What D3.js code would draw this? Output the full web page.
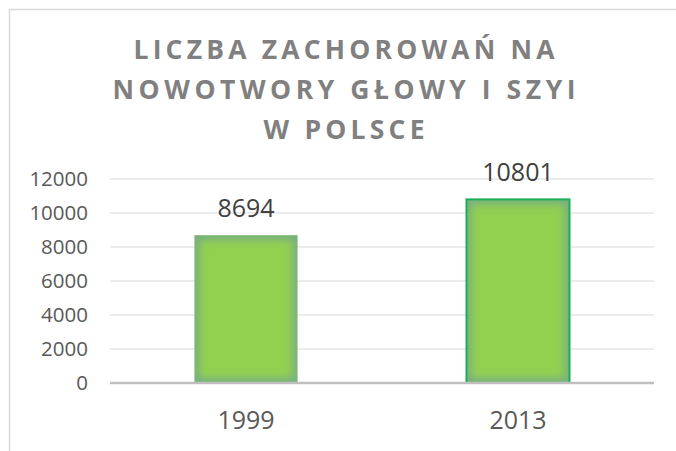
<!DOCTYPE html>
<html lang="pl">
<head>
<meta charset="UTF-8">
<title>Liczba zachorowań</title>
<script src="https://cdn.jsdelivr.net/npm/d3@7"></script>
<style>
  html, body { margin: 0; padding: 0; background: #fff; }
  #chart { width: 676px; height: 451px; }
  text { font-family: "Open Sans", "Noto Sans", sans-serif; }
</style>
</head>
<body>
<div id="chart"></div>
<script>
// data
var years = ["1999", "2013"];
var cases = [8694, 10801];
var yTicks = [0, 2000, 4000, 6000, 8000, 10000, 12000];
var titleLines = ["LICZBA ZACHOROWAŃ NA", "NOWOTWORY GŁOWY I SZYI", "W POLSCE"];

var W = 676, H = 451;
var svg = d3.select("#chart").append("svg")
    .attr("width", W)
    .attr("height", H);

var defs = svg.append("defs");
var glow = defs.append("filter").attr("id", "glow")
    .attr("x", "-20%").attr("y", "-20%").attr("width", "140%").attr("height", "140%");
glow.append("feGaussianBlur").attr("stdDeviation", 4);

// chart frame (runs off the right and bottom of the picture)
svg.append("path")
    .attr("d", "M9.5," + (H + 2) + "V9.5H" + (W + 2))
    .attr("fill", "none")
    .attr("stroke", "#d9d9d9")
    .attr("stroke-width", 1.5);

// title
var titleWidths = [421, 463, 161];
svg.append("g").selectAll("text")
    .data(titleLines).enter().append("text")
    .attr("x", 344)
    .attr("y", function (d, i) { return 58.5 + i * 40; })
    .attr("text-anchor", "middle")
    .attr("font-size", 26.5)
    .attr("font-weight", "bold")
    .attr("fill", "#808080")
    .attr("textLength", function (d, i) { return titleWidths[i]; })
    .attr("lengthAdjust", "spacing")
    .text(function (d) { return d; });

var x = d3.scaleBand().domain(years).range([110, 654]);
var y = d3.scaleLinear().domain([0, 12000]).range([383, 179]);
var barW = 103;

// gridlines
svg.append("g").selectAll("line")
    .data(yTicks.filter(function (t) { return t > 0; })).enter().append("line")
    .attr("x1", 110).attr("x2", 654)
    .attr("y1", function (d) { return y(d); })
    .attr("y2", function (d) { return y(d); })
    .attr("stroke", "#d9d9d9")
    .attr("stroke-width", 1.2);

// y tick labels
var yAxis = svg.append("g")
    .attr("transform", "translate(110,0)")
    .call(d3.axisLeft(y).tickValues(yTicks).tickFormat(d3.format("d")).tickSize(0).tickPadding(22));
yAxis.select(".domain").remove();
yAxis.selectAll("text")
    .attr("font-family", "Open Sans, sans-serif")
    .attr("font-size", 20.5)
    .attr("fill", "#595959");

// bars
var bars = svg.append("g").selectAll("g")
    .data(years).enter().append("g");

bars.each(function (d, i) {
    var g = d3.select(this);
    var bx = x(d) + x.bandwidth() / 2 - barW / 2;
    var by = y(cases[i]);
    var bh = y(0) - by;
    var cid = "clip" + i;
    defs.append("clipPath").attr("id", cid)
        .append("rect").attr("x", bx).attr("y", by).attr("width", barW).attr("height", bh);
    g.append("rect")
        .attr("x", bx).attr("y", by).attr("width", barW).attr("height", bh)
        .attr("fill", "#92d050");
    g.append("rect")
        .attr("clip-path", "url(#" + cid + ")")
        .attr("x", bx).attr("y", by).attr("width", barW).attr("height", bh)
        .attr("fill", "none")
        .attr("stroke", "#5a8db5")
        .attr("stroke-opacity", 0.6)
        .attr("stroke-width", 8)
        .attr("filter", "url(#glow)");
    if (i === 1) {
        g.append("rect")
            .attr("x", bx).attr("y", by).attr("width", barW).attr("height", bh)
            .attr("fill", "none")
            .attr("stroke", "#1aaf54")
            .attr("stroke-width", 2);
    }
    // data label
    g.append("text")
        .attr("x", x(d) + x.bandwidth() / 2)
        .attr("y", by - 18.5)
        .attr("text-anchor", "middle")
        .attr("font-size", 25)
        .attr("fill", "#404040")
        .text(cases[i]);
});

// x axis line
svg.append("line")
    .attr("x1", 110).attr("x2", 654)
    .attr("y1", y(0)).attr("y2", y(0))
    .attr("stroke", "#bfbfbf")
    .attr("stroke-width", 2.5);

// x labels
var xAxis = svg.append("g")
    .attr("transform", "translate(0," + y(0) + ")")
    .call(d3.axisBottom(x).tickSize(0).tickPadding(28));
xAxis.select(".domain").remove();
xAxis.selectAll("text")
    .attr("font-family", "Open Sans, sans-serif")
    .attr("font-size", 25)
    .attr("fill", "#595959");
</script>
</body>
</html>
